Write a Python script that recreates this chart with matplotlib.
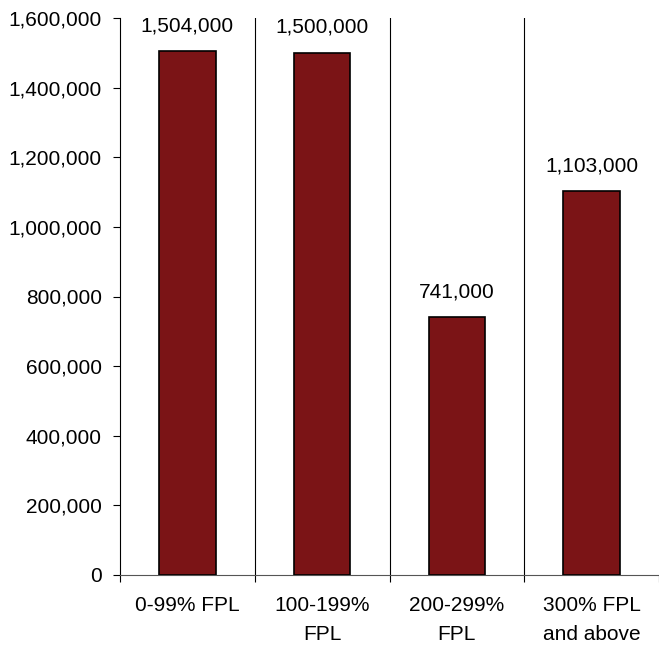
import numpy as np
import matplotlib.pyplot as plt
from matplotlib.ticker import FuncFormatter

plt.rcParams['font.family'] = ['Liberation Sans', 'DejaVu Sans']

# Data
categories = ['0-99% FPL', '100-199%\nFPL', '200-299%\nFPL', '300% FPL\nand above']
values = [1504000, 1500000, 741000, 1103000]
value_labels = ['1,504,000', '1,500,000', '741,000', '1,103,000']

fig = plt.figure(figsize=(6.59, 6.46), dpi=100)
ax = fig.add_axes([120/659, 1 - 575/646, 539/659, (575 - 18)/646])

x = np.arange(len(categories))
ax.bar(x, values, width=0.42, color='#7b1416', edgecolor='black', linewidth=1.2, zorder=3)

for xi, v, lab in zip(x, values, value_labels):
    ax.text(xi, v + 57000, lab, ha='center', va='baseline', fontsize=15)

# separators between categories
for b in np.arange(0.5, len(categories) - 0.5, 1):
    ax.axvline(b, color='black', linewidth=0.8, zorder=1)

ax.set_xlim(-0.5, len(categories) - 0.5)
ax.set_ylim(0, 1600000)
ax.set_yticks(np.arange(0, 1600001, 200000))
ax.yaxis.set_major_formatter(FuncFormatter(lambda v, p: f'{int(v):,}'))

ax.set_xticks(x)
ax.set_xticklabels(categories, fontsize=15, linespacing=1.7)
ax.tick_params(axis='x', length=0, pad=15)
ax.set_xticks(np.arange(-0.5, len(categories), 1), minor=True)
ax.tick_params(axis='x', which='minor', length=5, width=0.8, direction='out')
ax.tick_params(axis='y', length=5, width=0.8, direction='out', labelsize=15, pad=8)

for s in ['top', 'right']:
    ax.spines[s].set_visible(False)
ax.spines['left'].set_linewidth(0.8)
ax.spines['bottom'].set_linewidth(0.8)
ax.spines['bottom'].set_color('#555555')

fig.savefig('out.png', dpi=100)
